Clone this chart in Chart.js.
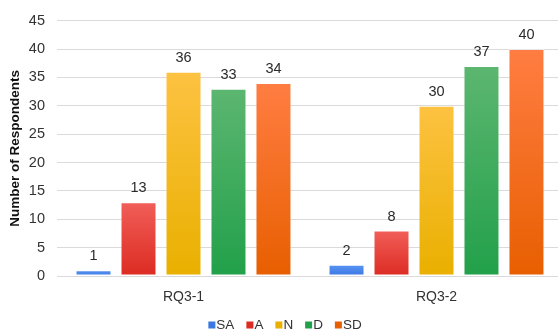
<!DOCTYPE html>
<html>
<head>
<meta charset="utf-8">
<script src="https://cdn.jsdelivr.net/npm/chart.js@4/dist/chart.umd.min.js"></script>
<style>
  html, body { margin: 0; padding: 0; background: #fff; overflow: hidden; }
  #wrap { width: 565px; height: 335px; position: relative; }
</style>
</head>
<body>
<div id="wrap"><canvas id="c"></canvas></div>
<script>
// Survey responses per question
const categories = ['RQ3-1', 'RQ3-2'];
const seriesNames = ['SA', 'A', 'N', 'D', 'SD'];
const SA = [1, 2];
const A  = [13, 8];
const N  = [36, 30];
const D  = [33, 37];
const SD = [34, 40];
const yTicks = [0, 5, 10, 15, 20, 25, 30, 35, 40, 45];

// Top / bottom colours of each series' vertical gradient
const palette = {
  SA: ['#5a95f4', '#3a77e2'],
  A:  ['#f15e58', '#dc2b22'],
  N:  ['#fdc241', '#e9b000'],
  D:  ['#5cb670', '#22a04a'],
  SD: ['#ff7d42', '#e85f00']
};
const values = { SA, A, N, D, SD };

const FONT = '"Liberation Sans", Arial, sans-serif';

function gradientFill(name) {
  return (ctx) => {
    const chart = ctx.chart;
    const area = chart.chartArea;
    if (!area || ctx.type !== 'data') return palette[name][1];
    const y = chart.scales.y;
    const top = y.getPixelForValue(ctx.raw);
    const base = y.getPixelForValue(0);
    if (base - top < 2) return palette[name][0];
    const g = chart.ctx.createLinearGradient(0, top, 0, base);
    g.addColorStop(0, palette[name][0]);
    g.addColorStop(1, palette[name][1]);
    return g;
  };
}

const datasets = seriesNames.map(name => ({
  label: name,
  data: values[name],
  backgroundColor: gradientFill(name),
  borderColor: 'rgba(255,255,255,0.35)',
  borderWidth: 1,
  borderSkipped: false,
  categoryPercentage: 0.889,
  barPercentage: 0.8
}));

// Value printed above every bar
const valueLabels = {
  id: 'valueLabels',
  afterDatasetsDraw(chart) {
    const { ctx } = chart;
    ctx.save();
    ctx.font = '14.5px ' + FONT;
    ctx.fillStyle = '#2a2a2a';
    ctx.textAlign = 'center';
    ctx.textBaseline = 'alphabetic';
    chart.data.datasets.forEach((ds, i) => {
      chart.getDatasetMeta(i).data.forEach((bar, j) => {
        ctx.fillText(String(ds.data[j]), bar.x, bar.y - 10);
      });
    });
    ctx.restore();
  }
};

// Compact legend row under the axis
const bottomLegend = {
  id: 'bottomLegend',
  afterDraw(chart) {
    const { ctx } = chart;
    ctx.save();
    ctx.font = '13.5px ' + FONT;
    ctx.textBaseline = 'middle';
    const box = 7, gapBox = 1, gapItem = 12;
    const items = chart.data.datasets.map(ds => ({
      label: ds.label,
      w: box + gapBox + ctx.measureText(ds.label).width
    }));
    const total = items.reduce((s, it) => s + it.w, 0) + gapItem * (items.length - 1);
    let x = 285 - total / 2;
    const yc = 325;
    items.forEach((it, i) => {
      ctx.fillStyle = palette[seriesNames[i]][1];
      ctx.fillRect(x, yc - box / 2, box, box);
      ctx.fillStyle = '#333';
      ctx.textAlign = 'left';
      ctx.fillText(it.label, x + box + gapBox, yc + 0.5);
      x += it.w + gapItem;
    });
    ctx.restore();
  }
};

new Chart(document.getElementById('c'), {
  type: 'bar',
  data: { labels: categories, datasets },
  plugins: [valueLabels, bottomLegend],
  options: {
    responsive: true,
    maintainAspectRatio: false,
    animation: false,
    layout: { padding: { top: 18, right: 2, bottom: 26, left: 0 } },
    plugins: {
      legend: { display: false },
      tooltip: { enabled: false }
    },
    scales: {
      x: {
        grid: { display: false },
        border: { display: false },
        ticks: { color: '#333', font: { family: FONT, size: 14 }, padding: 5 },
        afterFit(scale) { scale.height = 33; }
      },
      y: {
        min: 0,
        max: 45,
        afterBuildTicks(scale) { scale.ticks = yTicks.map(v => ({ value: v })); },
        grid: { color: '#dadada', lineWidth: 1, drawTicks: false },
        border: { display: false },
        ticks: { color: '#333', font: { family: FONT, size: 14.5 }, padding: 12 },
        title: {
          display: true,
          text: 'Number of Respondents',
          color: '#111',
          font: { family: FONT, size: 13.5, weight: 'bold' },
          padding: { top: 7, bottom: 0 }
        },
        afterFit(scale) { scale.width = 57; }
      }
    }
  }
});
</script>
</body>
</html>
